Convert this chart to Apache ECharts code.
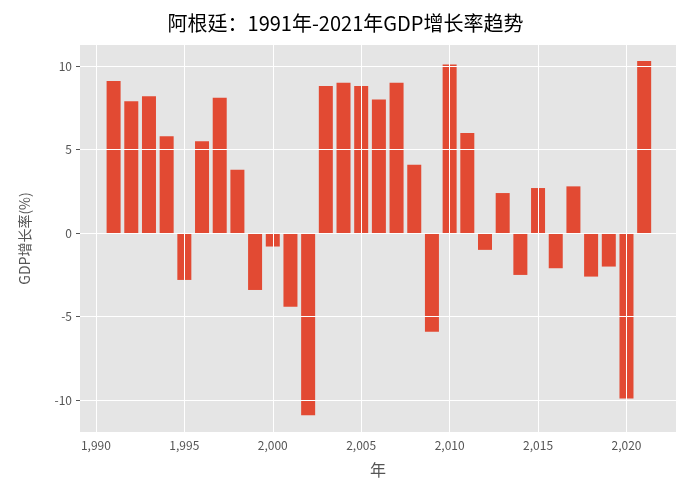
<!DOCTYPE html>
<html>
<head>
<meta charset="utf-8">
<script src="https://cdn.jsdelivr.net/npm/echarts@6/dist/echarts.min.js"></script>
<style>html,body{margin:0;padding:0;background:#fff}#main{width:691px;height:500px}</style>
</head>
<body>
<div id="main"></div>
<script>
// 年份与GDP增长率
var years = [1991,1992,1993,1994,1995,1996,1997,1998,1999,2000,2001,2002,2003,2004,2005,2006,2007,2008,2009,2010,2011,2012,2013,2014,2015,2016,2017,2018,2019,2020,2021];
var growth = [9.1,7.9,8.2,5.8,-2.8,5.5,8.1,3.8,-3.4,-0.8,-4.4,-10.9,8.8,9.0,8.8,8.0,9.0,4.1,-5.9,10.1,6.0,-1.0,2.4,-2.5,2.7,-2.1,2.8,-2.6,-2.0,-9.9,10.3];
var xTicks = [1990,1995,2000,2005,2010,2015,2020];
var yTicks = [-10,-5,0,5,10];

var font = '"Noto Sans CJK SC", "DejaVu Sans", sans-serif';
var chart = echarts.init(document.getElementById('main'));

var gridLines = [];
xTicks.forEach(function (v) { gridLines.push({ xAxis: v }); });
yTicks.forEach(function (v) { gridLines.push({ yAxis: v }); });

chart.setOption({
  animation: false,
  title: {
    text: '阿根廷：1991年-2021年GDP增长率趋势',
    left: 'center', top: 8,
    textStyle: { fontFamily: font, fontSize: 20, fontWeight: 'normal', color: '#000' }
  },
  grid: { left: 80, right: 15, top: 45, bottom: 68, show: true, backgroundColor: '#E5E5E5', borderWidth: 0 },
  xAxis: {
    type: 'value', min: 1989.1, max: 2022.8,
    name: '年', nameLocation: 'middle', nameGap: 30,
    nameTextStyle: { fontFamily: font, fontSize: 16, color: '#555' },
    axisLine: { show: false },
    splitLine: { show: false },
    axisTick: { show: true, customValues: xTicks, length: 4, lineStyle: { color: '#555' } },
    axisLabel: { customValues: xTicks, fontFamily: font, fontSize: 12, color: '#555', margin: 7 }
  },
  yAxis: {
    type: 'value', min: -11.9, max: 11.26,
    name: 'GDP增长率(%)', nameLocation: 'middle', nameGap: 48,
    nameTextStyle: { fontFamily: font, fontSize: 14, color: '#555' },
    axisLine: { show: false },
    splitLine: { show: false },
    axisTick: { show: true, customValues: yTicks, length: 4, lineStyle: { color: '#555' } },
    axisLabel: { customValues: yTicks, fontFamily: font, fontSize: 12, color: '#555', margin: 8 }
  },
  series: [
    {
      type: 'line', data: [], z: 1, silent: true,
      markLine: { silent: true, symbol: 'none', label: { show: false },
        lineStyle: { color: '#fff', type: 'solid', width: 1 }, data: gridLines }
    },
    {
      type: 'bar', z: 2, barWidth: 14,
      itemStyle: { color: '#E24A33' },
      data: years.map(function (y, i) { return [y, growth[i]]; })
    }
  ]
});
</script>
</body>
</html>
